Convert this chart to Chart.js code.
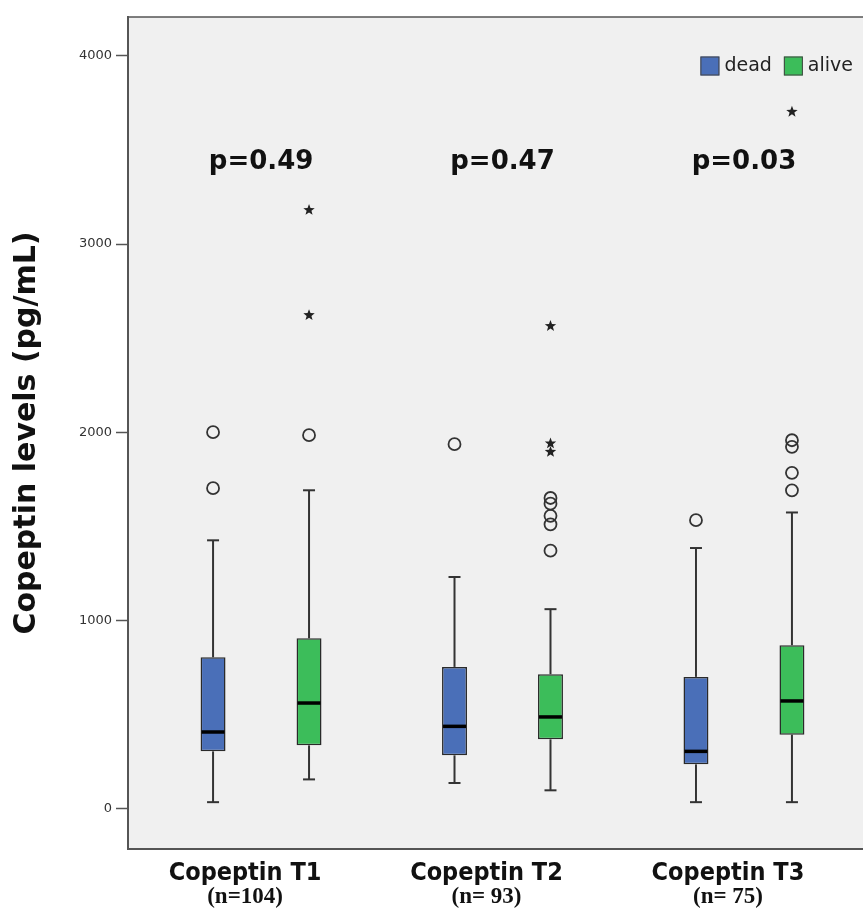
<!doctype html>
<html lang="en">
  <head>
    <meta charset="utf-8">
    <title>Copeptin levels</title>
    <script src="https://cdn.jsdelivr.net/npm/chart.js@4.4.1/dist/chart.umd.min.js"></script>
    <style>
      html, body { margin: 0; padding: 0; background: #fff; overflow: hidden; }
      #chartBox { width: 863px; height: 911px; }
    </style>
  </head>
  <body>
    <div id="chartBox"><canvas id="copeptinChart" width="863" height="911"></canvas></div>
    <script>
      // ---- values (pg/mL) ----
      const categories = ['Copeptin T1', 'Copeptin T2', 'Copeptin T3'];
      const sampleSizes = ['(n=104)', '(n= 93)', '(n= 75)'];
      const pValues = ['p=0.49', 'p=0.47', 'p=0.03'];
      const yTicks = [0, 1000, 2000, 3000, 4000];
      const pLabelLevel = 3400;

      // dead
      const deadLow = [33, 135, 33];
      const deadQ1 = [303, 282, 234];
      const deadMedian = [406, 436, 303];
      const deadQ3 = [803, 752, 699];
      const deadHigh = [1425, 1230, 1384];
      const deadOutliers = [[1702, 2000], [1936], [1532]];
      const deadExtremes = [[], [], []];

      // alive
      const aliveLow = [154, 96, 33];
      const aliveQ1 = [335, 367, 392];
      const aliveMedian = [560, 486, 571];
      const aliveQ3 = [904, 713, 867];
      const aliveHigh = [1691, 1059, 1573];
      const aliveOutliers = [[1984], [1370, 1510, 1555, 1620, 1650], [1691, 1784, 1922, 1957]];
      const aliveExtremes = [[2622, 3181], [1895, 1940, 2564], [3703]];

      const blue = '#4a6fb8';
      const green = '#3cbd5a';

      const stats = [
        { low: deadLow, med: deadMedian, high: deadHigh, out: deadOutliers, ext: deadExtremes },
        { low: aliveLow, med: aliveMedian, high: aliveHigh, out: aliveOutliers, ext: aliveExtremes }
      ];

      function boxes(q1, q3) {
        return categories.map((c, i) => ({ x: i, y: [q1[i], q3[i]] }));
      }

      function line(ctx, x1, y1, x2, y2) {
        ctx.beginPath(); ctx.moveTo(x1, y1); ctx.lineTo(x2, y2); ctx.stroke();
      }

      function star(ctx, cx, cy, r) {
        ctx.beginPath();
        for (let k = 0; k < 10; k++) {
          const rr = k % 2 ? r * 0.42 : r;
          const a = -Math.PI / 2 + k * Math.PI / 5;
          ctx.lineTo(cx + rr * Math.cos(a), cy + rr * Math.sin(a));
        }
        ctx.closePath();
        ctx.fill();
      }

      const boxExtras = {
        id: 'boxExtras',
        beforeDraw(chart) {
          const { ctx, chartArea: a } = chart;
          ctx.save();
          ctx.fillStyle = '#f0f0f0';
          ctx.fillRect(a.left, a.top, a.right - a.left, a.bottom - a.top);
          ctx.strokeStyle = '#555';
          ctx.lineWidth = 1.5;
          line(ctx, a.left, a.top, a.right, a.top);
          ctx.restore();
        },
        afterDatasetsDraw(chart) {
          const { ctx, chartArea: a } = chart;
          const ys = chart.scales.y, xs = chart.scales.x;
          ctx.save();
          chart.data.datasets.forEach((ds, d) => {
            const s = stats[d];
            chart.getDatasetMeta(d).data.forEach((bar, i) => {
              const x = bar.x, half = bar.width / 2;
              const top = Math.min(bar.y, bar.base), bottom = Math.max(bar.y, bar.base);
              const lo = ys.getPixelForValue(s.low[i]);
              const hi = ys.getPixelForValue(s.high[i]);
              ctx.strokeStyle = '#333';
              ctx.lineWidth = 2;
              line(ctx, x, top, x, hi);
              line(ctx, x, bottom, x, lo);
              line(ctx, x - 6, hi, x + 6, hi);
              line(ctx, x - 6, lo, x + 6, lo);
              // median
              const m = ys.getPixelForValue(s.med[i]);
              ctx.strokeStyle = '#000';
              ctx.lineWidth = 3.5;
              line(ctx, x - half + 1, m, x + half - 1, m);
              // outliers
              ctx.strokeStyle = '#333';
              ctx.lineWidth = 1.8;
              s.out[i].forEach(v => {
                ctx.beginPath();
                ctx.arc(x, ys.getPixelForValue(v), 6, 0, Math.PI * 2);
                ctx.stroke();
              });
              ctx.fillStyle = '#222';
              s.ext[i].forEach(v => star(ctx, x, ys.getPixelForValue(v), 6));
            });
          });

          // p values and sample sizes
          ctx.fillStyle = '#111';
          ctx.textAlign = 'center';
          ctx.textBaseline = 'alphabetic';
          categories.forEach((c, i) => {
            const gx = xs.getPixelForValue(i);
            ctx.font = 'bold 26px "DejaVu Sans"';
            ctx.fillText(pValues[i], gx, ys.getPixelForValue(pLabelLevel));
            ctx.font = 'bold 23px "Liberation Serif"';
            ctx.fillText(sampleSizes[i], gx - 16, 903);
          });

          // legend inside the plot, top right
          ctx.font = '19px "DejaVu Sans"';
          ctx.textAlign = 'left';
          ctx.textBaseline = 'middle';
          let lx = a.right - 10;
          const ly = a.top + 49;
          chart.data.datasets.slice().reverse().forEach(ds => {
            const w = ctx.measureText(ds.label).width;
            lx -= w;
            ctx.fillStyle = '#222';
            ctx.fillText(ds.label, lx, ly);
            lx -= 5 + 19;
            ctx.fillStyle = ds.backgroundColor;
            ctx.fillRect(lx, ly - 9.5, 19, 19);
            ctx.strokeStyle = '#444';
            ctx.lineWidth = 1;
            ctx.strokeRect(lx + 0.5, ly - 9, 18, 18);
            lx -= 12;
          });
          ctx.restore();
        }
      };

      new Chart(document.getElementById('copeptinChart'), {
        type: 'bar',
        data: {
          datasets: [
            { label: 'dead', data: boxes(deadQ1, deadQ3), backgroundColor: blue, borderColor: '#2a2a2a', borderWidth: 1.5, borderSkipped: false },
            { label: 'alive', data: boxes(aliveQ1, aliveQ3), backgroundColor: green, borderColor: '#2a2a2a', borderWidth: 1.5, borderSkipped: false }
          ]
        },
        options: {
          responsive: false,
          animation: false,
          categoryPercentage: 0.795,
          barPercentage: 0.26,
          layout: { padding: { top: 17, left: 0, right: 0, bottom: 0 } },
          plugins: { legend: { display: false }, tooltip: { enabled: false } },
          scales: {
            x: {
              type: 'linear',
              offset: false,
              min: -0.551,
              max: 2.493,
              afterBuildTicks: s => { s.ticks = categories.map((c, i) => ({ value: i })); },
              afterFit: s => { s.height = 62; },
              grid: { display: false },
              border: { display: true, color: '#555', width: 2 },
              ticks: {
                callback: v => categories[v],
                labelOffset: -16,
                padding: 1,
                color: '#111',
                font: { family: '"DejaVu Sans Condensed", "DejaVu Sans", sans-serif', weight: 'bold', size: 25 }
              }
            },
            y: {
              min: -216,
              max: 4207,
              afterBuildTicks: s => { s.ticks = yTicks.map(v => ({ value: v })); },
              afterFit: s => { s.width = 128; },
              grid: { drawOnChartArea: false, tickLength: 12, tickColor: '#555', tickWidth: 1.5 },
              border: { display: true, color: '#555', width: 2 },
              ticks: {
                padding: 4,
                color: '#333',
                callback: v => String(v),
                font: { family: '"DejaVu Sans"', size: 13 }
              },
              title: {
                display: true,
                text: 'Copeptin levels (pg/mL)',
                color: '#111',
                padding: { top: 9 },
                font: { family: '"DejaVu Sans"', weight: 'bold', size: 30 }
              }
            }
          }
        },
        plugins: [boxExtras]
      });
    </script>
  </body>
</html>
